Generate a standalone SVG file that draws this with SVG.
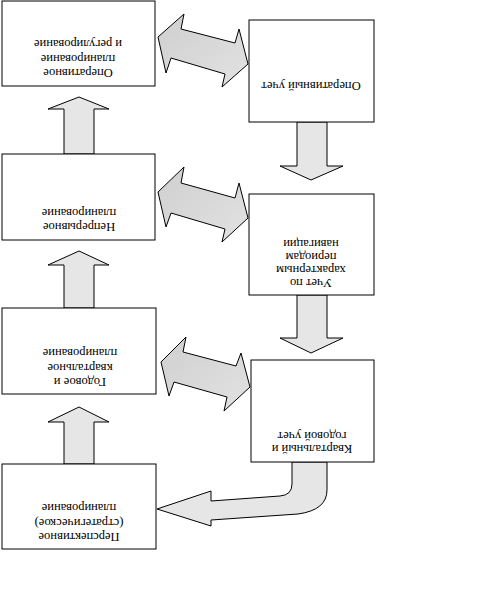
<svg xmlns="http://www.w3.org/2000/svg" width="498" height="590" viewBox="0 0 498 590">
<style>
.box{fill:#fff;stroke:#000;stroke-width:1}
.arr{fill:#e6e6e6;stroke:#000;stroke-width:1;stroke-linejoin:miter}
.dbl{fill:url(#g);stroke:#000;stroke-width:1}
.t{font-family:"Liberation Serif","Times New Roman",serif;font-size:12.5px;fill:#000;text-anchor:middle}
</style>
<defs>
<linearGradient id="g" x1="0" y1="0" x2="1" y2="1">
<stop offset="0" stop-color="#cfcfcf"/>
<stop offset="1" stop-color="#e2e2e2"/>
</linearGradient>
</defs>
<rect x="0" y="0" width="498" height="590" fill="#fff"/>
<g id="connectors">
<polygon class="arr" points="64,154 64,109 48,109 79,97 109,109 94,109 94,154"/>
<polygon class="arr" points="64,308 64,265 48,265 79,251 109,265 94,265 94,308"/>
<polygon class="arr" points="64,464 64,422 48,422 79,407 109,422 94,422 94,464"/>
<polygon class="arr" points="297,122 297,166 280,166 311,180 343,166 327,166 327,122"/>
<polygon class="arr" points="297,295 297,338 280,338 311,353 343,338 327,338 327,295"/>
<polygon class="dbl" points="158,37 184,14 181,29 235,43 239,29 248,64 222,87 225,74 171,58 166,73"/>
<polygon class="dbl" points="158,192 184,167 181,183 235,198 239,183 248,218 222,242 225,229 171,213 166,227"/>
<polygon class="dbl" points="161,362 186,337 183,352 236,366 241,353 250,387 224,411 227,397 174,382 169,396"/>
<path class="arr" d="M292,462 L292,484 Q292,495 280,496 L211,501 L211,491 L157,509 L211,526 L211,520 L298,514 Q327,510 327,490 L327,462 Z"/>
</g>
<g id="n1"><rect class="box" x="2" y="1" width="153" height="85"/>
<text class="t" transform="rotate(180 78 59)"><tspan x="78" y="49">Оперативное</tspan><tspan x="78" y="63.5">планирование</tspan><tspan x="78" y="78">и регулирование</tspan></text></g>
<g id="n2"><rect class="box" x="2" y="154" width="153" height="86"/>
<text class="t" transform="rotate(180 79 220)"><tspan x="79" y="217">Непрерывное</tspan><tspan x="79" y="231">планирование</tspan></text></g>
<g id="n3"><rect class="box" x="2" y="308" width="154" height="86"/>
<text class="t" transform="rotate(180 80 368)"><tspan x="80" y="358">Годовое  и</tspan><tspan x="80" y="372.5">квартальное</tspan><tspan x="80" y="387">планирование</tspan></text></g>
<g id="n4"><rect class="box" x="2" y="464" width="154" height="85"/>
<text class="t" transform="rotate(180 79 523)"><tspan x="79" y="513">Перспективное</tspan><tspan x="79" y="527.5">(стратегическое)</tspan><tspan x="79" y="542">планирование</tspan></text></g>
<g id="nA"><rect class="box" x="249" y="20" width="125" height="102"/>
<text class="t" transform="rotate(180 311 86)"><tspan x="311" y="90">Оперативный учет</tspan></text></g>
<g id="nB"><rect class="box" x="249" y="194" width="125" height="101"/>
<text class="t" transform="rotate(180 311 263)"><tspan x="311" y="247">Учет по</tspan><tspan x="311" y="260">характерным</tspan><tspan x="311" y="273">периодам</tspan><tspan x="311" y="286">навигации</tspan></text></g>
<g id="nC"><rect class="box" x="251" y="360" width="123" height="102"/>
<text class="t" transform="rotate(180 312 442)"><tspan x="312" y="439">Квартальный  и</tspan><tspan x="312" y="452.5">годовой учет</tspan></text></g>
</svg>
